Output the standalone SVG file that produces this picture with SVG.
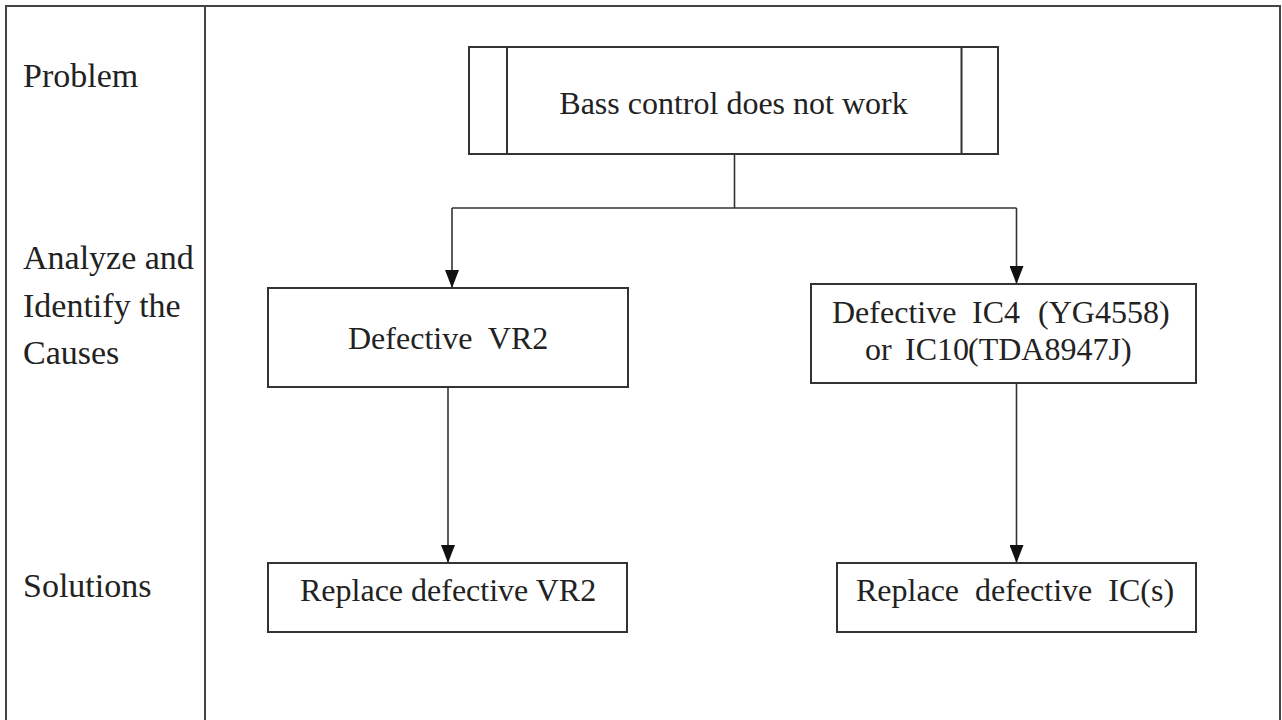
<svg xmlns="http://www.w3.org/2000/svg" width="1282" height="720" viewBox="0 0 1282 720">
  <defs>
    <style>
      .frame { fill: none; stroke: #444; stroke-width: 2; }
      .box { fill: #fff; stroke: #333; stroke-width: 2; }
      .wire { fill: none; stroke: #333; stroke-width: 1.6; }
      .lbl { font-family: "Liberation Serif", "Times New Roman", serif; font-size: 34px; fill: #222; }
      .txt { font-family: "Liberation Serif", "Times New Roman", serif; font-size: 32px; fill: #222; }
    </style>
    <marker id="arrow" markerUnits="userSpaceOnUse" markerWidth="18" markerHeight="14" refX="18" refY="7" orient="auto">
      <path d="M0,0 L18,7 L0,14 z" fill="#111"/>
    </marker>
  </defs>

  <rect width="1282" height="720" fill="#fff"/>

  <!-- frame: open at the bottom, with the column divider -->
  <g id="frame">
    <path class="frame" d="M6,720 V6 H1280 V720"/>
    <path class="frame" d="M205,7 V720"/>
  </g>

  <!-- row labels -->
  <g id="labels">
    <text class="lbl" x="23" y="87">Problem</text>
    <text class="lbl" x="23" y="269">Analyze and</text>
    <text class="lbl" x="23" y="317">Identify the</text>
    <text class="lbl" x="23" y="364">Causes</text>
    <text class="lbl" x="23" y="597">Solutions</text>
  </g>

  <!-- connectors -->
  <g id="connectors">
    <path class="wire" d="M734.5,154 V208"/>
    <path class="wire" d="M452,208 H1016.5"/>
    <path class="wire" d="M452,208 V288" marker-end="url(#arrow)"/>
    <path class="wire" d="M1016.5,208 V284" marker-end="url(#arrow)"/>
    <path class="wire" d="M448,387 V563" marker-end="url(#arrow)"/>
    <path class="wire" d="M1016.5,383 V563" marker-end="url(#arrow)"/>
  </g>

  <!-- problem: predefined-process style box -->
  <g id="problem">
    <rect class="box" x="469" y="47" width="529" height="107"/>
    <path class="box" d="M507,47 V154 M961.5,47 V154"/>
    <text class="txt" x="733.5" y="114" text-anchor="middle">Bass control does not work</text>
  </g>

  <g id="cause-vr2">
    <rect class="box" x="268" y="288" width="360" height="99"/>
    <text class="txt" x="348" y="349" xml:space="preserve">Defective  VR2</text>
  </g>

  <g id="cause-ic">
    <rect class="box" x="811" y="284" width="385" height="99"/>
    <text class="txt" y="323"><tspan x="832">Defective</tspan><tspan x="972">IC4</tspan><tspan x="1038">(YG4558)</tspan></text>
    <text class="txt" y="360"><tspan x="865">or</tspan><tspan x="905">IC10</tspan><tspan x="968">(TDA8947J)</tspan></text>
  </g>

  <g id="fix-vr2">
    <rect class="box" x="268" y="563" width="359" height="69"/>
    <text class="txt" x="300" y="601">Replace defective VR2</text>
  </g>

  <g id="fix-ic">
    <rect class="box" x="837" y="563" width="359" height="69"/>
    <text class="txt" x="856" y="601" xml:space="preserve">Replace  defective  IC(s)</text>
  </g>
</svg>
